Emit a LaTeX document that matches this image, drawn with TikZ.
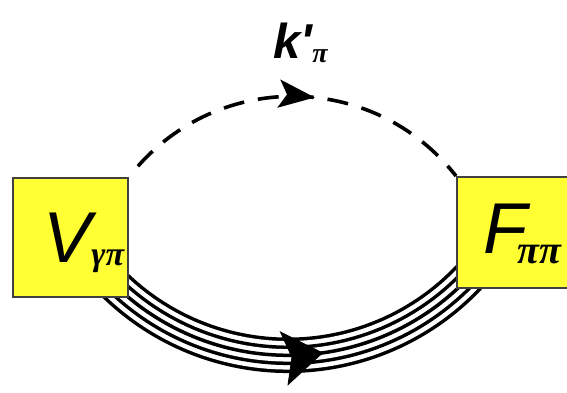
\documentclass[tikz,border=0pt]{standalone}
\usepackage{fontspec}
\setmainfont{Liberation Sans}
\newfontfamily\grk{Liberation Serif}
\usetikzlibrary{arrows.meta,decorations.markings}
\definecolor{vyellow}{RGB}{255,255,51}
\newcommand{\lowsub}[3]{\raisebox{-#1}{\grk\fontsize{#2}{#2}\selectfont #3}}

\begin{document}
\begin{tikzpicture}[x=0.5pt,y=0.5pt,
  vtx/.style={draw=black!75,line width=1pt,fill=vyellow,inner sep=0pt,minimum width=57.5pt},
  lbl/.style={inner sep=0pt,anchor=base west,font=\fontsize{36}{40}\selectfont\itshape},
  dashln/.style={line width=1.8pt,dash pattern=on 10.5pt off 7pt,dash phase=10.5pt},
  >={Stealth[inset=4pt]}]
  \useasboundingbox (0,0) rectangle (567,392);
  % pion band
  \coordinate (bandc) at (288,285.3);
  \foreach \w/\c in {17.75/black,14.25/white,9.75/black,6.25/white,1.75/black}
    \draw[line width=\w pt,\c] ([shift={(215:248.6)}]bandc) arc[start angle=215,end angle=325,radius=248.6];
  \path[decoration={markings,mark=at position 0.574 with {\arrow{Stealth[length=20pt,width=27.5pt,inset=4pt]}}},decorate]
    ([shift={(215:248.6)}]bandc) arc[start angle=215,end angle=325,radius=248.6];
  % vertices
  \node[vtx,minimum height=59.5pt] (vgp) at (70.5,154.5) {};
  \node[vtx,minimum height=55.5pt] (fpp) at (514.5,159.5) {};
  \node[lbl] (vtxt) at (43,130) {V\lowsub{1.5pt}{17}{\bfseries γπ}};
  \node[lbl] (ftxt) at (483,139) {F\kern-5pt\lowsub{5pt}{20}{\bfseries ππ}};
  \node[inner sep=0pt,anchor=base west,font=\fontsize{24.5}{28}\selectfont\bfseries\itshape] (kp) at (273,334)
    {k\textquotesingle\raisebox{-2.5pt}{\grk\fontsize{14}{14}\selectfont π}};
  % pion line
  \draw[dashln,decoration={markings,mark=at position 0.56 with {\arrow{Stealth[length=18pt,width=14pt,inset=4pt]}}},postaction=decorate]
    (vgp.north east) to[bend left=52,looseness=1.06] (fpp.north west);
\end{tikzpicture}
\end{document}
